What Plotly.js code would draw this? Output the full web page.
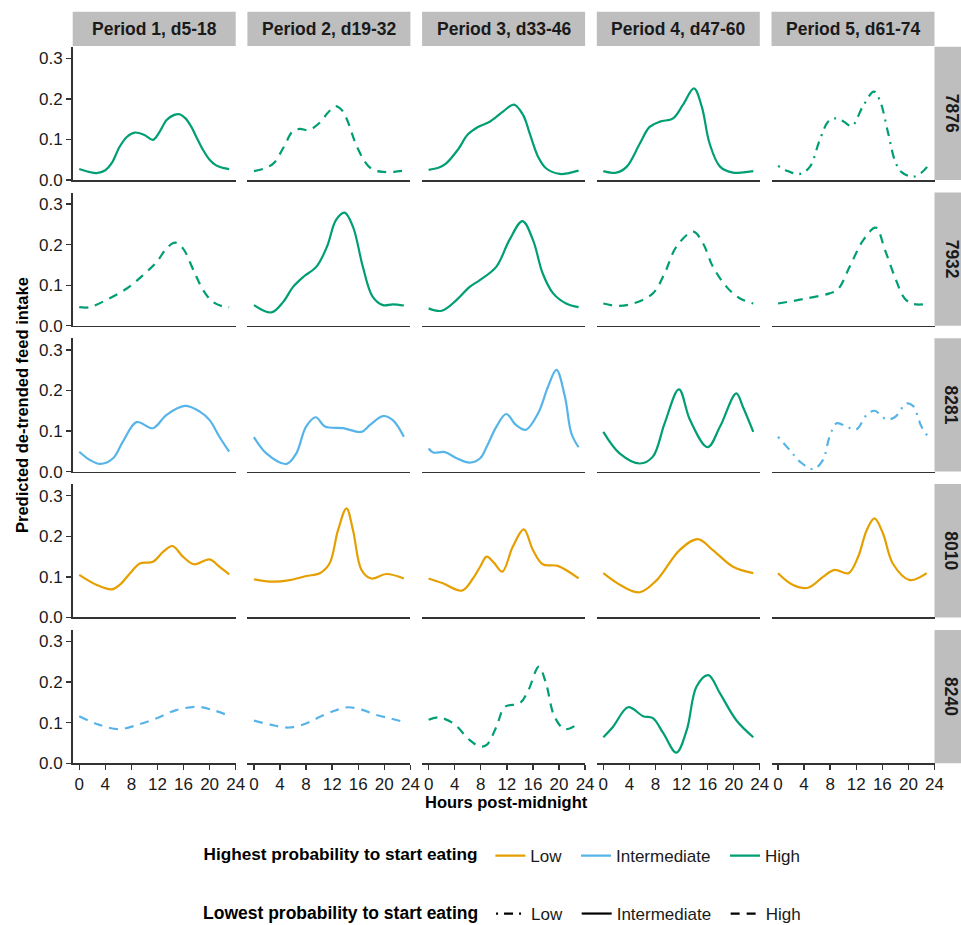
<!DOCTYPE html>
<html>
<head>
<meta charset="utf-8">
<script src="https://cdn.plot.ly/plotly-3.0.1.min.js"></script>
<style>html,body{margin:0;padding:0;background:#fff}#chart{width:961px;height:925px}</style>
</head>
<body>
<div id="chart"></div>
<script>
// ---------- categories ----------
const periods = ["Period 1, d5-18","Period 2, d19-32","Period 3, d33-46","Period 4, d47-60","Period 5, d61-74"];
const animals = ["7876","7932","8281","8010","8240"];
const xTicks = [0,4,8,12,16,20,24];
const yTicks = [0,0.1,0.2,0.3];
const yTickText = ["0.0","0.1","0.2","0.3"];

// Highest / lowest probability to start eating, per animal (rows) and period (cols)
const highest = [
  ["High","High","High","High","High"],
  ["High","High","High","High","High"],
  ["Intermediate","Intermediate","Intermediate","High","Intermediate"],
  ["Low","Low","Low","Low","Low"],
  ["Intermediate","Intermediate","High","High",null]
];
const lowest = [
  ["Intermediate","High","Intermediate","Intermediate","Low"],
  ["High","Intermediate","Intermediate","High","High"],
  ["Intermediate","Intermediate","Intermediate","Intermediate","Low"],
  ["Intermediate","Intermediate","Intermediate","Intermediate","Intermediate"],
  ["High","High","High","Intermediate",null]
];
const levelNames = ["Low","Intermediate","High"];

// ---------- series values (hours post-midnight, predicted feed intake) ----------
// Animal 7876
const h_7876_p1 = [0,1.5,2.7,4,5,6.2,7.3,8.5,10,11.3,12.3,13.4,14.5,15.4,16.3,17.2,18,19,20,21,22,23];
const v_7876_p1 = [0.027,0.020,0.017,0.024,0.042,0.082,0.106,0.117,0.111,0.099,0.118,0.148,0.160,0.162,0.152,0.131,0.105,0.074,0.050,0.036,0.030,0.027];
const h_7876_p2 = [0,1.5,3,4.6,5.9,7,8.4,10,11.3,12.5,13.5,14.3,15.8,17.4,18.5,19.9,21.5,23];
const v_7876_p2 = [0.022,0.028,0.041,0.082,0.119,0.126,0.123,0.140,0.165,0.182,0.172,0.148,0.082,0.037,0.024,0.020,0.020,0.023];
const h_7876_p3 = [0,1.5,2.7,4.5,6,7.5,9.5,11.5,13.1,14.5,15.5,16.8,18,20.1,21.5,23];
const v_7876_p3 = [0.025,0.030,0.041,0.075,0.112,0.130,0.145,0.170,0.186,0.160,0.115,0.057,0.029,0.015,0.017,0.023];
const h_7876_p4 = [0,2,3.6,5.6,7.1,8.7,10.7,12.2,13.9,15.1,16.3,17.9,19.9,21.5,23];
const v_7876_p4 = [0.022,0.018,0.033,0.090,0.131,0.144,0.152,0.185,0.226,0.181,0.090,0.033,0.018,0.019,0.022];
const h_7876_p5 = [0,1.5,3.4,4.9,6.4,7.7,8.7,10,11.3,13,14.7,15.6,16.9,17.9,18.9,20.7,22,23];
const v_7876_p5 = [0.035,0.022,0.015,0.033,0.099,0.144,0.152,0.145,0.133,0.181,0.218,0.197,0.115,0.049,0.020,0.008,0.018,0.035];
// Animal 7932
const h_7932_p1 = [0,1.6,4.2,7.3,9.8,11.9,13.4,14.7,15.9,17.5,19,20.5,22,23];
const v_7932_p1 = [0.046,0.046,0.064,0.092,0.125,0.158,0.191,0.205,0.191,0.138,0.088,0.059,0.048,0.046];
const h_7932_p2 = [0,2.7,4.5,6,7.6,9.6,11.2,12.6,13.9,15.2,16.7,18.2,19.8,21.3,23];
const v_7932_p2 = [0.051,0.033,0.059,0.096,0.121,0.146,0.195,0.261,0.279,0.244,0.146,0.072,0.051,0.053,0.050];
const h_7932_p3 = [0,2,4.3,6.3,7.9,10.4,12.4,14.4,16,17.5,19.1,21.1,23];
const v_7932_p3 = [0.043,0.037,0.064,0.096,0.113,0.146,0.212,0.258,0.212,0.129,0.080,0.055,0.046];
const h_7932_p4 = [0,2.3,4.6,7.6,9.4,11.2,13.8,15.3,16.8,18.9,20.9,23];
const v_7932_p4 = [0.055,0.049,0.055,0.080,0.129,0.195,0.232,0.203,0.146,0.096,0.068,0.055];
const h_7932_p5 = [0,3.9,7.9,9.2,11,13.1,15,16.4,17.9,19.4,20.7,23];
const v_7932_p5 = [0.055,0.066,0.080,0.090,0.146,0.212,0.242,0.187,0.121,0.068,0.054,0.054];
// Animal 8281
const h_8281_p1 = [0,1.6,3.2,5.2,6.7,8.8,11.3,13.4,16.2,18.5,20,21.5,23];
const v_8281_p1 = [0.049,0.029,0.019,0.033,0.074,0.122,0.107,0.140,0.162,0.148,0.127,0.086,0.049];
const h_8281_p2 = [0,1.9,5,6.5,8,9.5,10.9,13.7,16.5,17.8,19.8,21.3,23];
const v_8281_p2 = [0.085,0.045,0.019,0.045,0.111,0.134,0.111,0.107,0.098,0.115,0.137,0.127,0.086];
const h_8281_p3 = [0,0.7,2.5,4.3,6.3,7.9,8.9,10.4,11.9,13.4,14.9,16.8,18.3,19.6,20.9,21.9,23];
const v_8281_p3 = [0.057,0.047,0.048,0.033,0.022,0.033,0.061,0.111,0.142,0.115,0.103,0.144,0.209,0.251,0.185,0.094,0.060];
const h_8281_p4 = [0,2.5,5.6,7.6,9.4,11.6,13.3,16,17.9,20.4,21.4,23];
const v_8281_p4 = [0.098,0.045,0.020,0.037,0.119,0.203,0.127,0.060,0.111,0.193,0.160,0.098];
const h_8281_p5 = [0,1.8,3.4,5.4,6.9,7.9,9,10.5,12,13.6,14.8,16.6,17.9,19.7,20.7,22,23];
const v_8281_p5 = [0.086,0.053,0.024,0.006,0.029,0.086,0.119,0.111,0.104,0.140,0.150,0.129,0.134,0.168,0.162,0.111,0.086];
// Animal 8010
const h_8010_p1 = [0,2.7,5,6.2,7.8,9.3,11.3,12.9,14.3,15.9,17.6,20,21.5,23];
const v_8010_p1 = [0.105,0.080,0.069,0.080,0.109,0.133,0.137,0.162,0.176,0.150,0.131,0.143,0.125,0.106];
const h_8010_p2 = [0,2.9,5.5,8,10.1,11.6,12.9,14.2,15.2,16.5,18,20.3,23];
const v_8010_p2 = [0.094,0.088,0.092,0.102,0.109,0.133,0.215,0.269,0.215,0.117,0.096,0.107,0.096];
const h_8010_p3 = [0,2.2,5.1,6.8,7.9,8.9,10,11.3,12.9,14.6,16,17.5,19.8,23];
const v_8010_p3 = [0.096,0.084,0.066,0.096,0.125,0.150,0.135,0.113,0.174,0.217,0.166,0.131,0.127,0.096];
const h_8010_p4 = [0,3,5.6,8.2,11.7,14.5,16.8,19.9,23];
const v_8010_p4 = [0.109,0.076,0.062,0.092,0.166,0.193,0.166,0.125,0.109];
const h_8010_p5 = [0,2.3,4.6,6.9,8.7,10.8,12.3,13.6,14.8,16.1,17.6,20.2,22.8];
const v_8010_p5 = [0.109,0.080,0.073,0.100,0.117,0.109,0.150,0.215,0.244,0.207,0.133,0.092,0.109];
// Animal 8240
const h_8240_p1 = [0,3,6.2,9,11.9,14.9,18.2,20.5,23];
const v_8240_p1 = [0.116,0.095,0.084,0.095,0.111,0.131,0.139,0.131,0.117];
const h_8240_p2 = [0,2.5,5.4,8,10.2,12.5,14.4,16.5,18.8,21,23];
const v_8240_p2 = [0.105,0.095,0.088,0.098,0.115,0.130,0.138,0.132,0.119,0.110,0.102];
const h_8240_p3 = [0,1.5,3.8,6.3,7.9,8.9,10.4,11.7,14,15.3,16.9,18,19.3,20.9,23];
const v_8240_p3 = [0.107,0.113,0.098,0.057,0.041,0.045,0.090,0.139,0.148,0.180,0.238,0.197,0.115,0.084,0.098];
const h_8240_p4 = [0,1.5,3.8,6.1,7.6,9.2,11.2,12.8,14.3,16.1,17.9,20.4,23];
const v_8240_p4 = [0.064,0.090,0.138,0.116,0.111,0.074,0.026,0.082,0.189,0.217,0.172,0.106,0.064];

const hoursGrid = [
  [h_7876_p1,h_7876_p2,h_7876_p3,h_7876_p4,h_7876_p5],
  [h_7932_p1,h_7932_p2,h_7932_p3,h_7932_p4,h_7932_p5],
  [h_8281_p1,h_8281_p2,h_8281_p3,h_8281_p4,h_8281_p5],
  [h_8010_p1,h_8010_p2,h_8010_p3,h_8010_p4,h_8010_p5],
  [h_8240_p1,h_8240_p2,h_8240_p3,h_8240_p4,null]
];
const valueGrid = [
  [v_7876_p1,v_7876_p2,v_7876_p3,v_7876_p4,v_7876_p5],
  [v_7932_p1,v_7932_p2,v_7932_p3,v_7932_p4,v_7932_p5],
  [v_8281_p1,v_8281_p2,v_8281_p3,v_8281_p4,v_8281_p5],
  [v_8010_p1,v_8010_p2,v_8010_p3,v_8010_p4,v_8010_p5],
  [v_8240_p1,v_8240_p2,v_8240_p3,v_8240_p4,null]
];

// ---------- styles ----------
const colourOf = {Low:"#E69F00", Intermediate:"#56B4E9", High:"#009E73"};
const dashOf = {Low:"2px,6px,9px,6px", Intermediate:"solid", High:"9px,7px"};
const FONT = "Liberation Sans, Arial, Helvetica, sans-serif";
const W = 961, H = 925;
const colL = c => 72.7 + 174.7*c;
const colR = c => 235.7 + 174.7*c;
const rowT = r => 46.7 + 145.8*r;
const rowB = r => 180 + 145.8*r;
const px = x => x / W;
const py = y => 1 - y / H;
const NB = "\u00a0";

const data = [];
const layout = {
  width: W, height: H,
  margin: {l:0, r:0, t:0, b:0, autoexpand:false},
  paper_bgcolor: "#fff", plot_bgcolor: "rgba(0,0,0,0)",
  font: {family: FONT, size: 16, color: "#1a1a1a"},
  showlegend: true,
  shapes: [], annotations: []
};

for (let r = 0; r < 5; r++) {
  for (let c = 0; c < 5; c++) {
    const i = r*5 + c + 1;
    const xa = "xaxis" + (i === 1 ? "" : i), ya = "yaxis" + (i === 1 ? "" : i);
    const xr = "x" + (i === 1 ? "" : i), yr = "y" + (i === 1 ? "" : i);
    const bottom = r === 4, left = c === 0;
    layout[xa] = {
      domain: [px(colL(c)), px(colR(c))], anchor: yr, range: [-1, 24],
      showgrid: false, zeroline: false, showline: true, linecolor: "#333", linewidth: 1.6,
      tickvals: xTicks, ticks: bottom ? "outside" : "", ticklen: 5, tickwidth: 1.4, tickcolor: "#333",
      showticklabels: bottom, tickfont: {size: 17, color: "#1a1a1a", family: FONT}, fixedrange: true
    };
    layout[ya] = {
      domain: [py(rowB(r)), py(rowT(r))], anchor: xr, range: [0, 0.3287],
      showgrid: false, zeroline: false, showline: left, linecolor: "#333", linewidth: 1.6,
      tickvals: yTicks, ticktext: yTickText, ticks: left ? "outside" : "", ticklen: 5, tickwidth: 1.4, tickcolor: "#333",
      showticklabels: left, tickfont: {size: 17, color: "#1a1a1a", family: FONT}, fixedrange: true
    };
    const hrs = hoursGrid[r][c];
    if (hrs) {
      data.push({
        type: "scatter", mode: "lines", x: hrs, y: valueGrid[r][c], xaxis: xr, yaxis: yr,
        line: {color: colourOf[highest[r][c]], dash: dashOf[lowest[r][c]], width: 2.2, shape: "spline", smoothing: 1},
        showlegend: false, hoverinfo: "skip", cliponaxis: true
      });
    } else {
      // empty panel: keep its axes drawn
      data.push({type: "scatter", mode: "lines", x: [null], y: [null], xaxis: xr, yaxis: yr, showlegend: false, hoverinfo: "skip"});
    }
  }
}

// strips
for (let c = 0; c < 5; c++) {
  layout.shapes.push({type: "rect", xref: "paper", yref: "paper", x0: px(colL(c)), x1: px(colR(c)), y0: py(46), y1: py(11.7),
    fillcolor: "#BEBEBE", line: {width: 0}, layer: "below"});
  layout.annotations.push({xref: "paper", yref: "paper", x: px((colL(c)+colR(c))/2), y: py(29), showarrow: false,
    text: "<b>" + periods[c] + "</b>", font: {size: 17.5, color: "#1a1a1a", family: FONT}, xanchor: "center", yanchor: "middle"});
}
for (let r = 0; r < 5; r++) {
  layout.shapes.push({type: "rect", xref: "paper", yref: "paper", x0: px(934.5), x1: px(961), y0: py(rowB(r)), y1: py(rowT(r)),
    fillcolor: "#BEBEBE", line: {width: 0}, layer: "below"});
  layout.annotations.push({xref: "paper", yref: "paper", x: px(951.5), y: py((rowT(r)+rowB(r))/2), showarrow: false,
    text: "<b>" + animals[r] + "</b>", textangle: 90, font: {size: 17.5, color: "#1a1a1a", family: FONT}, xanchor: "center", yanchor: "middle"});
}

// axis titles
layout.annotations.push({xref: "paper", yref: "paper", x: px(22), y: py(405), showarrow: false, textangle: -90,
  text: "<b>Predicted de-trended feed intake</b>", font: {size: 16.5, color: "#000", family: FONT}, xanchor: "center", yanchor: "middle"});
layout.annotations.push({xref: "paper", yref: "paper", x: px(506), y: py(802), showarrow: false,
  text: "<b>Hours post-midnight</b>", font: {size: 16.5, color: "#000", family: FONT}, xanchor: "center", yanchor: "middle"});

// legends
levelNames.forEach((lv, k) => {
  data.push({type: "scatter", mode: "lines", x: [null], y: [null], name: lv + (k < 2 ? NB+NB : ""), legend: "legend",
    line: {color: colourOf[lv], width: 2.2}, hoverinfo: "skip"});
});
levelNames.forEach((lv, k) => {
  data.push({type: "scatter", mode: "lines", x: [null], y: [null], name: lv + (k < 2 ? NB+NB : ""), legend: "legend2",
    line: {color: "#000", width: 2.2, dash: dashOf[lv]}, hoverinfo: "skip"});
});
layout.legend = {orientation: "h", x: px(503.5), xanchor: "center", y: py(856), yanchor: "middle",
  title: {text: "<b>Highest probability to start eating</b>" + NB, side: "left", font: {size: 17.2, color: "#000", family: FONT}},
  font: {size: 17, color: "#1a1a1a", family: FONT}, bgcolor: "rgba(0,0,0,0)", traceorder: "normal"};
layout.legend2 = {orientation: "h", x: px(503.5), xanchor: "center", y: py(914), yanchor: "middle",
  title: {text: "<b>Lowest probability to start eating</b>" + NB, side: "left", font: {size: 17.5, color: "#000", family: FONT}},
  font: {size: 17, color: "#1a1a1a", family: FONT}, bgcolor: "rgba(0,0,0,0)", traceorder: "normal"};

Plotly.newPlot("chart", data, layout, {displayModeBar: false, staticPlot: true});
</script>
</body>
</html>
